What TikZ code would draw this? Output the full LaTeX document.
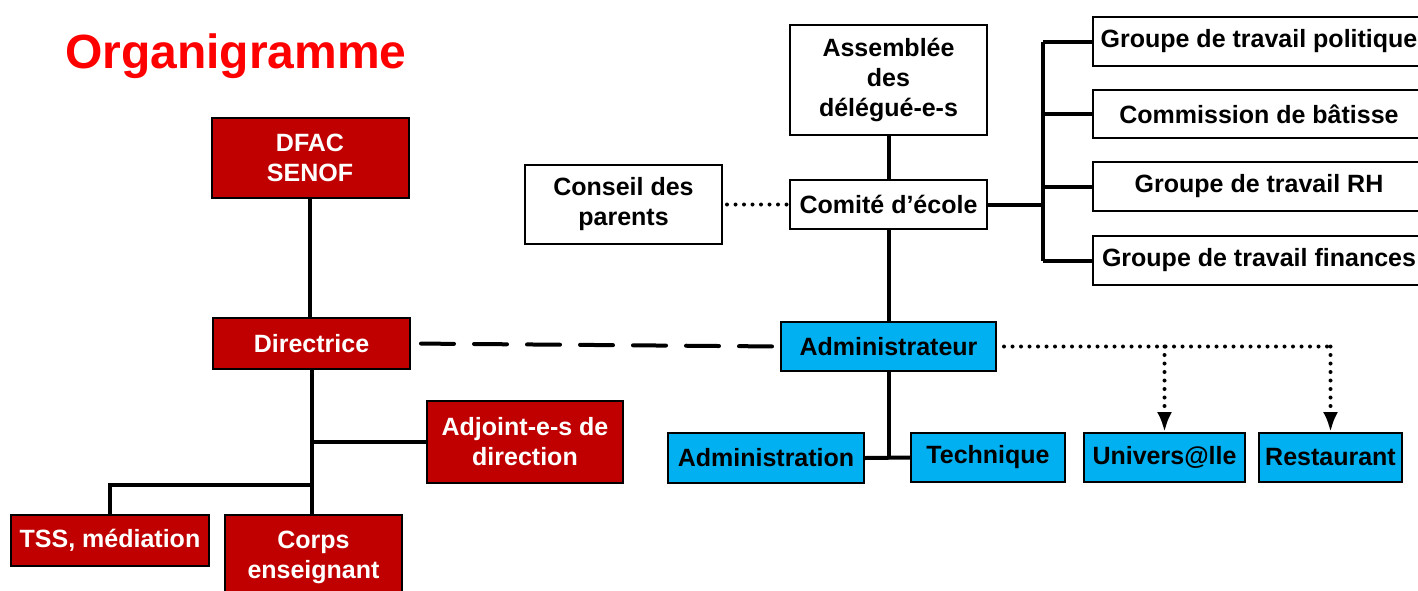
\documentclass[tikz,border=0pt]{standalone}
\usepackage{fontspec}
\setmainfont{Liberation Sans}
\usetikzlibrary{arrows.meta}
\definecolor{boxred}{HTML}{C00000}
\definecolor{boxblue}{HTML}{00B0F0}
\definecolor{titlered}{HTML}{FF0000}

\begin{document}
\begin{tikzpicture}[x=1pt, y=-1pt,
  box/.style={rectangle, draw=black, line width=2pt, inner sep=0pt, align=center, font=\bfseries\fontsize{25}{30}\selectfont},
  redbox/.style={box, fill=boxred, text=white},
  bluebox/.style={box, fill=boxblue, text=black},
  whitebox/.style={box, fill=white, text=black},
  link/.style={line width=4pt},
  dots/.style={line width=4pt, line cap=round, dash pattern=on 0pt off 8.5pt},]
\useasboundingbox (0,0) rectangle (1418,590);

%Title
\node[text=titlered, font=\bfseries\fontsize{48}{58}\selectfont, anchor=base west, inner sep=0pt] (title) at (65,68) {Organigramme};

%Nodes - school side
\node[redbox, minimum width=197pt, minimum height=80pt] (dfac) at (310,158) {DFAC\\SENOF};
\node[redbox, minimum width=197pt, minimum height=51pt] (dir) at (311.5,343.5) {Directrice};
\node[redbox, minimum width=196pt, minimum height=82pt] (adj) at (525,442) {Adjoint-e-s de\\direction};
\node[redbox, minimum width=198pt, minimum height=51pt] (tss) at (110,540.5) {TSS, médiation};
\node[redbox, minimum width=177pt, minimum height=85pt] (corps) at (313.5,557.5) {Corps\\enseignant};

%Nodes - committee side
\node[whitebox, minimum width=197pt, minimum height=110pt] (asm) at (888.5,80) {Assemblée\\des\\délégué-e-s};
\node[whitebox, minimum width=197pt, minimum height=79pt] (cons) at (623.5,204.5) {Conseil des\\parents};
\node[whitebox, minimum width=197pt, minimum height=49pt] (com) at (888.5,204.5) {Comité d’école};
\node[whitebox, minimum width=332pt, minimum height=49pt] (gpol) at (1259,41.5) {Groupe de travail politique};
\node[whitebox, minimum width=332pt, minimum height=48pt] (gbat) at (1259,114) {Commission de bâtisse};
\node[whitebox, minimum width=332pt, minimum height=49pt] (grh) at (1259,186.5) {Groupe de travail RH};
\node[whitebox, minimum width=332pt, minimum height=49pt] (gfin) at (1259,260.5) {Groupe de travail finances};

%Nodes - administration
\node[bluebox, minimum width=215pt, minimum height=49pt] (adm) at (888.5,346.5) {Administrateur};
\node[bluebox, minimum width=196pt, minimum height=50pt] (admin) at (766,458) {Administration};
\node[bluebox, minimum width=154pt, minimum height=49pt] (tech) at (988,457.5) {Technique};
\node[bluebox, minimum width=161pt, minimum height=49pt] (univ) at (1164.5,457.5) {Univers@lle};
\node[bluebox, minimum width=143pt, minimum height=49pt] (rest) at (1330.5,457.5) {Restaurant};

%Lines
\coordinate (split) at (312,485);
\draw[link] (dfac.south) -- (dfac.south |- dir.north);
\draw[link] (dir.south) -- (dir.south |- corps.north);
\draw[link] (dir.south |- adj.west) -- (adj.west);
\draw[link] (tss.north) |- (split);

\coordinate (bus) at (1043,204.5);
\draw[link] (com.east) -- (bus);
\draw[link] (bus |- gpol.west) -- (bus |- gfin.west);
\foreach \g in {gpol, gbat, grh, gfin}
  \draw[link] (bus |- \g.west) -- (\g.west);
\draw[link] (asm.south) -- (com.north);
\draw[link] (com.south) -- (adm.north);
\draw[dots, shorten <=4pt] (cons.east) -- (com.west);

\draw[link, line cap=round, dash pattern=on 33pt off 20pt, shorten <=10pt, shorten >=7pt] (dir.east) -- (adm.west);

\draw[link] (adm.south) -- (adm.south |- admin.east);
\draw[link] (admin.east) -- (tech.west);

\coordinate (tap) at (rest.north |- adm.east);
\draw[dots, shorten <=7pt] (adm.east) -- (tap);
\draw[dots, -{Latex[length=20pt, width=15pt]}] (tap) -- (rest.north);
\draw[dots, -{Latex[length=20pt, width=15pt]}] (univ.north |- adm.east) -- (univ.north);

\end{tikzpicture}
\end{document}
